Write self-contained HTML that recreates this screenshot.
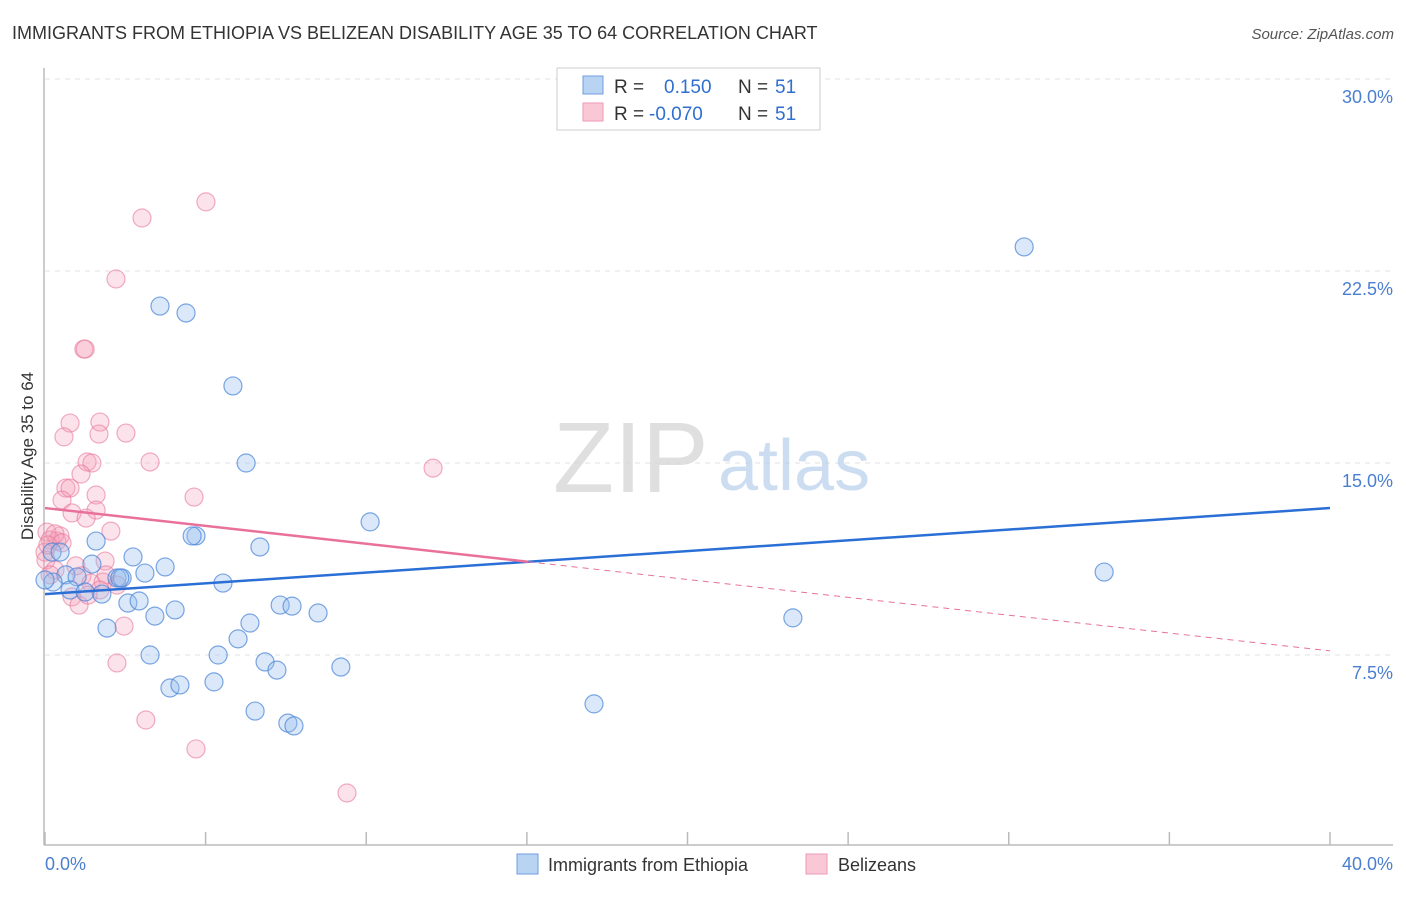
<!DOCTYPE html>
<html><head><meta charset="utf-8">
<style>
body{margin:0;background:#fff;font-family:"Liberation Sans",sans-serif;}
svg text{font-family:"Liberation Sans",sans-serif;}
</style></head>
<body>
<svg id="chart" width="1406" height="892" xmlns="http://www.w3.org/2000/svg">
<text x="12" y="39" font-size="18" fill="#333">IMMIGRANTS FROM ETHIOPIA VS BELIZEAN DISABILITY AGE 35 TO 64 CORRELATION CHART</text>
<text x="1394" y="39" font-size="15" fill="#555" text-anchor="end" font-style="italic">Source: ZipAtlas.com</text>
<g id="grid"></g>
<g>
<text x="553" y="492" font-size="100" fill="#d8d8d8" font-family="Liberation Serif, serif" opacity="0.8">ZIP</text>
<text x="718" y="490" font-size="72" fill="#b8d0ec" opacity="0.7">atlas</text>
</g>
<line x1="44" y1="68" x2="44" y2="845" stroke="#bbb" stroke-width="1.5"/>
<line x1="44" y1="845" x2="1393" y2="845" stroke="#bbb" stroke-width="1.5"/>
<g id="ticks"></g>
<text transform="translate(33,456) rotate(-90)" font-size="17" fill="#333" text-anchor="middle">Disability Age 35 to 64</text>
<text x="45" y="870" font-size="18" fill="#4a7fd0">0.0%</text>
<text x="1393" y="870" font-size="18" fill="#4a7fd0" text-anchor="end">40.0%</text>
<g id="pts"></g>
<g id="trends"></g>
<g>
<rect x="557" y="68" width="263" height="62" fill="#fff" stroke="#ccc"/>
<rect x="583" y="76" width="20" height="18" fill="#b9d3f3" stroke="#6f9ee0"/>
<rect x="583" y="103" width="20" height="18" fill="#f9c7d5" stroke="#ee9ab3"/>
<text x="614" y="93" font-size="19" fill="#333">R =</text>
<text x="664" y="93" font-size="19" fill="#2f6fd0">0.150</text>
<text x="738" y="93" font-size="19" fill="#333">N =</text>
<text x="775" y="93" font-size="19" fill="#2f6fd0">51</text>
<text x="614" y="120" font-size="19" fill="#333">R =</text>
<text x="649" y="120" font-size="19" fill="#2f6fd0">-0.070</text>
<text x="738" y="120" font-size="19" fill="#333">N =</text>
<text x="775" y="120" font-size="19" fill="#2f6fd0">51</text>
</g>
<g>
<rect x="517" y="854" width="21" height="20" fill="#b9d3f3" stroke="#6f9ee0"/>
<text x="548" y="871" font-size="18" fill="#333">Immigrants from Ethiopia</text>
<rect x="806" y="854" width="21" height="20" fill="#f9c7d5" stroke="#ee9ab3"/>
<text x="838" y="871" font-size="18" fill="#333">Belizeans</text>
</g>
</svg>
<script>
const yTicks=[7.5,15,22.5,30];
const yTickLabels=["7.5%","15.0%","22.5%","30.0%"];
const xTicks=[0,5,10,15,20,25,30,35,40];
const blueX=[3.58,4.39,5.85,6.26,30.48,10.12,32.97,23.28,17.09,0.22,0.47,1.59,2.74,3.74,3.11,2.24,2.40,1.46,0.65,1.00,0.25,0.78,1.25,1.77,5.54,6.69,4.70,4.58,2.58,2.93,1.93,4.05,3.42,7.32,7.69,8.50,6.38,6.01,3.27,5.39,6.85,7.22,9.21,3.89,4.20,5.26,6.54,7.56,7.75,0,2.33];
const blueY=[21.13,20.86,18.01,15.0,23.44,12.70,10.74,8.95,5.59,11.52,11.52,11.95,11.33,10.94,10.70,10.51,10.51,11.05,10.63,10.55,10.35,10.04,9.96,9.88,10.31,11.72,12.15,12.15,9.53,9.61,8.55,9.26,9.02,9.45,9.41,9.14,8.75,8.13,7.50,7.50,7.23,6.91,7.03,6.21,6.33,6.45,5.31,4.84,4.73,10.43,10.51];
const pinkX=[3.02,5.01,2.21,1.21,1.25,0.78,0.59,1.71,1.68,2.52,3.27,1.31,1.46,12.08,0.65,0.78,1.12,1.59,4.64,0.53,0.84,1.59,1.28,2.05,0.47,0.37,0.06,0.16,0,0.03,0.31,0.96,1.87,1.90,1.15,1.43,1.81,2.24,0.84,1.06,2.46,2.24,3.14,4.70,9.40,0.31,0.53,0.09,0.16,1.71,1.34];
const pinkY=[24.57,25.20,22.19,19.45,19.45,16.56,16.02,16.60,16.13,16.17,15.04,15.04,15.0,14.80,14.02,14.02,14.57,13.75,13.67,13.55,13.05,13.16,12.85,12.34,12.15,11.95,12.30,11.99,11.52,11.21,10.82,10.98,11.17,10.63,10.59,10.31,10.35,10.23,9.77,9.45,8.63,7.19,4.96,3.83,2.11,12.23,11.88,11.80,10.63,10.04,9.84];
const blueTrend=[9.88,13.24];
const pinkTrend=[13.24,7.66];
const pinkSolidEnd=15.03;

const NS="http://www.w3.org/2000/svg";
const X=v=>45+v*(1285/40);
const Y=v=>847-v*(768/30);
function mk(tag,attrs,parent){const e=document.createElementNS(NS,tag);for(const k in attrs)e.setAttribute(k,attrs[k]);parent.appendChild(e);return e;}
const grid=document.getElementById('grid');
yTicks.forEach((t,i)=>{
  const l=mk('line',{x1:45,x2:1393,y1:Y(t),y2:Y(t),stroke:'#e0e0e0','stroke-dasharray':'5,5'},grid);
  
  
  const tx=mk('text',{x:1393,y:Y(t)+24,'font-size':18,fill:'#4a7fd0','text-anchor':'end'},grid);
  tx.textContent=yTickLabels[i];
  
  
});
const tk=document.getElementById('ticks');
xTicks.forEach(t=>{
  const l=mk('line',{x1:X(t),x2:X(t),y1:832,y2:845,stroke:'#bbb','stroke-width':1.5},tk);
  
  
});
const pts=document.getElementById('pts');
pinkX.forEach((x,i)=>{
  const c=mk('circle',{cx:X(x),cy:Y(pinkY[i]),r:9,fill:'rgba(244,160,184,0.3)',stroke:'rgba(232,120,155,0.6)','stroke-width':1.2},pts);
  
  
});
blueX.forEach((x,i)=>{
  const c=mk('circle',{cx:X(x),cy:Y(blueY[i]),r:9,fill:'rgba(150,190,238,0.35)',stroke:'rgba(70,130,215,0.7)','stroke-width':1.2},pts);
  
  
});
const tr=document.getElementById('trends');
const b=mk('line',{x1:X(0),y1:Y(blueTrend[0]),x2:X(40),y2:Y(blueTrend[1]),stroke:'#2a6fd6','stroke-width':2.5},tr);


const pAt=x=>pinkTrend[0]+(pinkTrend[1]-pinkTrend[0])*x/40;
const p1=mk('line',{x1:X(0),y1:Y(pAt(0)),x2:X(pinkSolidEnd),y2:Y(pAt(pinkSolidEnd)),stroke:'#e8709a','stroke-width':2.5},tr);


const p2=mk('line',{x1:X(pinkSolidEnd),y1:Y(pAt(pinkSolidEnd)),x2:X(40),y2:Y(pAt(40)),stroke:'#e8709a','stroke-width':1,'stroke-dasharray':'6,5'},tr);


</script>
</body></html>
